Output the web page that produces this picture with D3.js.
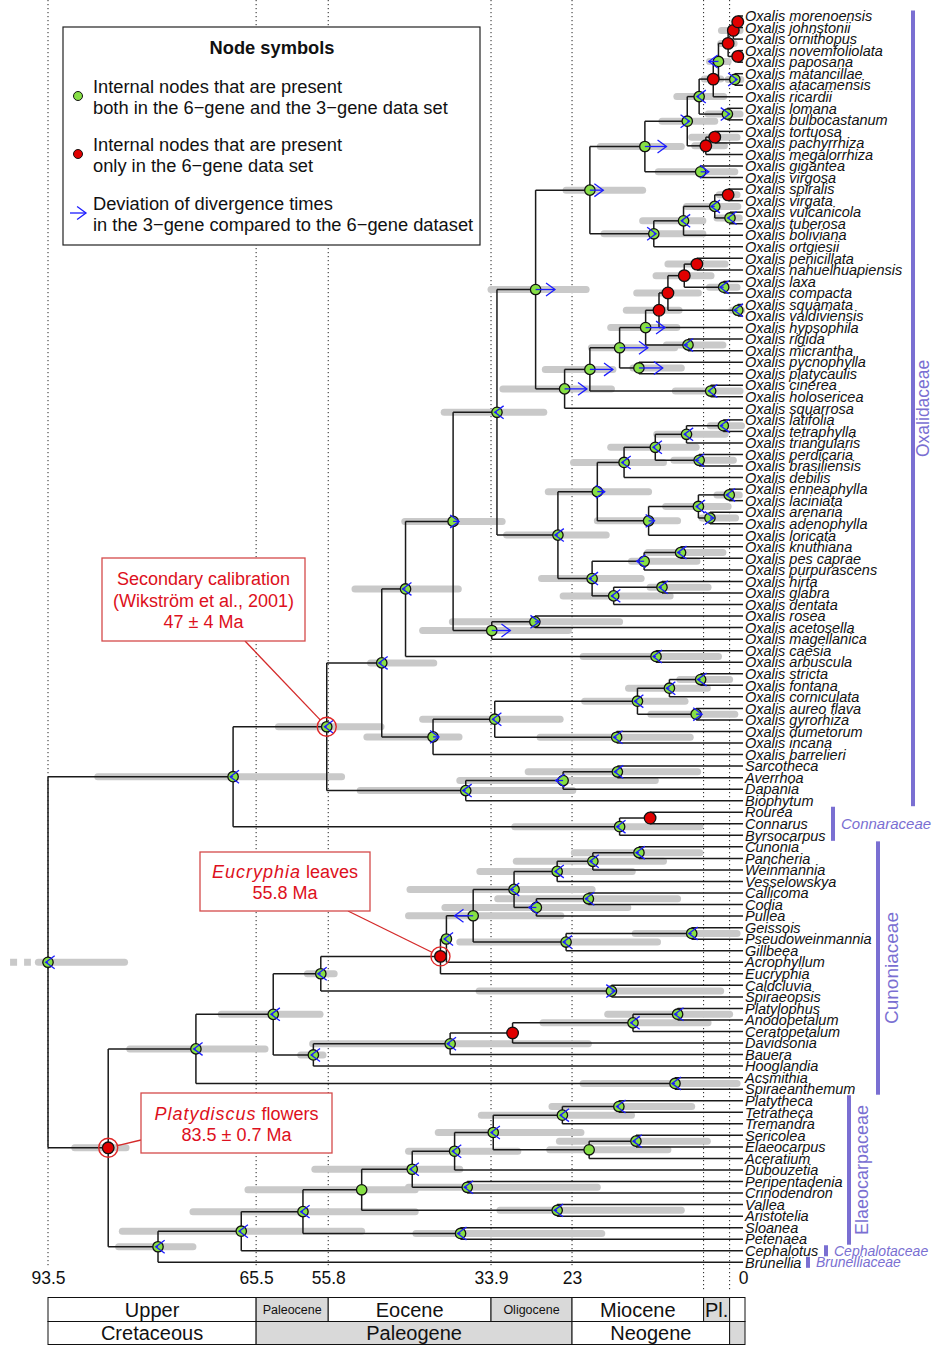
<!DOCTYPE html>
<html>
<head>
<meta charset="utf-8">
<script src="https://cdn.jsdelivr.net/npm/d3@7"></script>
<style>
  body { margin: 0; background: #fff; }
  svg { display: block; }
  text { font-family: "Liberation Sans", Arial, sans-serif; }
</style>
</head>
<body>
<svg id="chart" width="932" height="1345"></svg>
<script>
// ============ DATA ============== \\
const leafNames = ["Oxalis morenoensis","Oxalis johnstonii","Oxalis ornithopus","Oxalis novemfoliolata","Oxalis paposana",
  "Oxalis matancillae","Oxalis atacamensis","Oxalis ricardii","Oxalis lomana","Oxalis bulbocastanum","Oxalis tortuosa",
  "Oxalis pachyrrhiza","Oxalis megalorrhiza","Oxalis gigantea","Oxalis virgosa","Oxalis spiralis","Oxalis virgata",
  "Oxalis vulcanicola","Oxalis tuberosa","Oxalis boliviana","Oxalis ortgiesii","Oxalis penicillata","Oxalis nahuelhuapiensis",
  "Oxalis laxa","Oxalis compacta","Oxalis squamata","Oxalis valdiviensis","Oxalis hypsophila","Oxalis rigida",
  "Oxalis micrantha","Oxalis pycnophylla","Oxalis platycaulis","Oxalis cinerea","Oxalis holosericea","Oxalis squarrosa",
  "Oxalis latifolia","Oxalis tetraphylla","Oxalis triangularis","Oxalis perdicaria","Oxalis brasiliensis","Oxalis debilis",
  "Oxalis enneaphylla","Oxalis laciniata","Oxalis arenaria","Oxalis adenophylla","Oxalis loricata","Oxalis knuthiana",
  "Oxalis pes caprae","Oxalis purpurascens","Oxalis hirta","Oxalis glabra","Oxalis dentata","Oxalis rosea",
  "Oxalis acetosella","Oxalis magellanica","Oxalis caesia","Oxalis arbuscula","Oxalis stricta","Oxalis fontana",
  "Oxalis corniculata","Oxalis aureo flava","Oxalis gyrorhiza","Oxalis dumetorum","Oxalis incana","Oxalis barrelieri",
  "Sarcotheca","Averrhoa","Dapania","Biophytum","Rourea","Connarus","Byrsocarpus","Cunonia","Pancheria","Weinmannia",
  "Vesselowskya","Callicoma","Codia","Pullea","Geissois","Pseudoweinmannia","Gillbeea","Acrophyllum","Eucryphia",
  "Caldcluvia","Spiraeopsis","Platylophus","Anodopetalum","Ceratopetalum","Davidsonia","Bauera","Hooglandia",
  "Acsmithia","Spiraeanthemum","Platytheca","Tetratheca","Tremandra","Sericolea","Elaeocarpus","Aceratium",
  "Dubouzetia","Peripentadenia","Crinodendron","Vallea","Aristotelia","Sloanea","Petenaea","Cephalotus","Brunellia"];

// internal node (numbered 1..108 in pre-order) that each leaf hangs from
const leafParent = [17,17,16,18,18,19,19,13,20,20, 22,22,21,23,23,27,27,28,28,25,
  24,36,36,37,37,38,38,33,39,39, 40,40,41,41,29,47,47,46,48,48,
  44,51,51,52,52,49,55,55,54,57, 57,56,59,59,58,60,60,65,65,64,
  66,66,67,67,61,70,70,69,68,72, 72,71,83,83,82,81,85,85,84,87,
  87,86,78,77,88,88,93,93,92,91, 90,89,94,94,103,103,102,105,105,104,
  100,106,106,107,107,108,108,96,95];

// parent of internal nodes 1..108 (0 = root)
const nodeParent = [0,1,2,3,4,5,6,7,8,9, 10,11,12,13,14,15,16,15,14,12,
  11,21,10,9,24,25,26,26,8,29, 30,31,32,33,34,35,35,34,32,31,
  30,7,42,43,44,45,46,45,43,49, 50,50,42,53,54,53,56,6,58,5,
  4,61,62,63,64,63,62,3,68,69, 2,71,1,73,74,75,76,77,78,79,
  80,81,82,80,84,79,86,76,75,89, 90,91,92,74,73,95,96,97,98,99,
  100,101,102,101,104,99,98,97];

// divergence time (Ma), 6-gene data set
const nodeAge = [93.5,68.6,56.0,48.6,45.4,39.0,33.1,27.9,20.6,13.2,
  7.5,5.9,4.0,3.3,2.0,1.3,0.7,0.7,1.1,2.1, 5.0,3.8,5.7,12.0,8.0,3.8,2.0,1.75,24.0,20.6,
  16.6,13.1,11.3,10.1,7.9,6.2,2.6,0.7,7.4,14.0, 4.35,24.9,19.6,16.0,11.8,7.6,2.65,5.9,12.7,6.0,
  1.85,4.45,20.3,13.3,8.4,17.4,10.9,33.8,28.0,11.7, 41.7,33.4,14.2,9.9,5.7,6.3,17.0,37.3,24.2,16.9,
  16.6,12.5,85.4,73.6,63.2,56.8,40.7,39.9,36.3,30.8, 25.0,20.2,14.0,27.8,20.8,23.8,6.9,17.7,57.8,39.4,
  31.0,14.8,8.8,9.15,78.7,67.5,59.2,51.3,44.5,38.8, 33.6,24.3,16.7,20.7,14.4,37.1,25.0,38.0];

// 95% HPD interval (old end, young end); null = not shown
const hpdOld = [94.8,86.8,62.5,50.1,52.2,45.5,40.2,33.9,23.8,19.2,
  10.9,8.9,5.2,4.5,3.0,2.9,1.2,1.2,2.0,4.7, 6.5,6.9,11.4,18.7,13.5,7.6,3.2,3.5,32.3,26.6,
  20.4,17.8,15.7,14.3,11.7,10.1,4.5,1.5,10.3,14.8, 9.1,31.8,26.2,22.8,17.8,11.6,4.4,9.3,19.6,10.4,
  3.5,5.5,27.1,15.0,12.8,24.2,12.5,43.1,39.1,21.5, 50.6,43.1,21.3,15.4,8.5,12.4,27.3,51.5,38.1,28.9,
  30.7,null,89.9,82.5,70.2,58.6,null,null,45.0,44.8, 35.4,30.5,22.7,40.1,33.0,38.1,14.5,35.5,59.5,57.9,
  null,26.9,18.2,21.5,84.0,83.5,74.0,66.6,57.6,45.0, 41.0,35.2,25.7,26.0,24.7,45.0,32.7,44.0];
const hpdYoung = [83.2,54.0,48.7,41.6,38.3,32.4,26.8,21.1,13.5,8.3,
  3.8,2.6,3.0,2.0,1.2,0.4,0.3,0.3,0.3,0.4, 2.5,0.8,1.1,5.4,5.4,0.7,0.8,0.5,17.7,17.5,
  9.2,8.9,8.6,6.0,4.3,2.4,0.8,0.2,2.7,8.3, 0.4,18.4,12.7,10.7,6.3,2.4,0.2,1.3,8.8,2.0,
  0.5,1.0,13.7,6.2,2.7,9.8,4.7,23.5,16.6,3.3, 38.2,24.6,7.8,4.8,1.8,1.1,7.1,22.9,11.8,6.1,
  5.8,null,83.0,64.3,56.9,55.0,null,null,24.5,20.3, 14.9,10.7,5.8,15.5,8.8,11.5,0.8,3.0,56.5,20.8,
  null,4.7,1.8,0.8,74.0,51.3,44.1,44.1,38.1,30.3, 21.8,15.0,6.9,10.1,4.8,19.6,8.3,19.0];
const rootHpdBeyond = [98.6, 95.8];

// shift of the 3-gene estimate relative to the 6-gene one (Ma, + = younger)
const shift3gene = [-0.3,-0.4,-0.3,-0.4,-0.4,0.8,-0.3,2.6,1.8,2.9,
  0.3,-0.3,0,-1.3,0,0,0,0,0.3,0.3, 0,0,1.1,0.3,-0.3,-0.5,0,-0.3,3.0,3.1,
  3.8,2.6,0,0,0,0,-0.5,-0.5,-0.5,3.2, -0.3,-0.4,1.0,-0.3,-0.3,-0.3,-0.4,-0.5,0.8,-0.3,
  -0.4,0.5,-0.4,-1.0,-0.4,-0.3,-0.4,2.5,0.6,-0.4, 0.8,-0.3,-0.4,-0.4,-0.4,0.8,-0.4,-0.4,-1.0,-0.4,
  -0.4,0,0,-0.3,-0.3,-0.4,0,-0.3,-2.5,-0.5, -0.3,-0.4,-0.4,-1.0,-0.4,-0.4,-0.4,0.5,-0.3,-0.4,
  0,-0.3,-0.4,-0.4,-0.3,-0.3,-0.3,0,-0.3,-0.3, -0.3,-0.3,-0.3,0,-0.4,-0.4,-0.4,-0.4];

// nodes present only in the 6-gene data set
const onlySixGene = [13,15,16,17,18,21,22,27,33,34,35,36,72,73,77,91];

// calibrated nodes
const calibNodes = [3, 77, 73];

const tickAges = [93.5, 65.5, 55.8, 33.9, 23, 0];
const boundaryAges = [93.5, 65.5, 55.8, 33.9, 23, 5.3, 1.8];

const epochNames = ["Upper", "Paleocene", "Eocene", "Oligocene", "Miocene", "Pl.", ""];
const epochFrom = [93.5, 65.5, 55.8, 33.9, 23, 5.3, 1.8];
const epochTo = [65.5, 55.8, 33.9, 23, 5.3, 1.8, 0];
const periodNames = ["Cretaceous", "Paleogene", "Neogene", ""];
const periodFrom = [93.5, 65.5, 23, 1.8];
const periodTo = [65.5, 23, 1.8, 0];

const familyNames = ["Oxalidaceae", "Connaraceae", "Cunoniaceae", "Elaeocarpaceae", "Cephalotaceae", "Brunelliaceae"];
const familyFirstLeaf = [0, 69, 72, 94, 107, 108];
const familyLastLeaf = [68, 71, 93, 106, 107, 108];

// ============ LAYOUT ============== \\
const svg = d3.select('#chart');
const x = d3.scaleLinear().domain([93.5, 0]).range([48, 743]);
const y = d3.scaleLinear().domain([0, leafNames.length - 1]).range([16, 1262.3]);

const GREEN = '#86df45', RED = '#e00000', BLUE = '#1c1cff', GREY = '#c9c9c9', PURPLE = '#7a6fd2';

const nodes = nodeParent.map((p, i) => ({
  id: i + 1, parent: p, age: nodeAge[i],
  hpd: hpdOld[i] == null ? null : [hpdOld[i], hpdYoung[i]],
  shift: shift3gene[i], red: onlySixGene.includes(i + 1), kids: []
}));
const byId = id => nodes[id - 1];

leafNames.forEach((name, i) => byId(leafParent[i]).kids.push({ x: x(0), y: y(i) }));
for (let k = nodes.length; k >= 1; k--) {
  const n = byId(k);
  n.x = x(n.age);
  n.y = d3.mean(n.kids, c => c.y);
  if (n.parent > 0) byId(n.parent).kids.push({ x: n.x, y: n.y });
}

// ============ BACKGROUND ============== \\
svg.append('g').selectAll('line')
  .data(boundaryAges).join('line')
  .attr('x1', d => x(d)).attr('x2', d => x(d))
  .attr('y1', 0).attr('y2', d => tickAges.includes(d) ? 1268 : 1290)
  .attr('stroke', '#222').attr('stroke-width', 1).attr('stroke-dasharray', '1.2,2.8');

// ============ HPD BARS ============== \\
svg.append('g').selectAll('line')
  .data(nodes.filter(n => n.hpd)).join('line')
  .attr('x1', n => x(n.hpd[0])).attr('x2', n => x(n.hpd[1]))
  .attr('y1', n => n.y).attr('y2', n => n.y)
  .attr('stroke', GREY).attr('stroke-width', 7).attr('stroke-linecap', 'round');

svg.append('line')
  .attr('x1', x(rootHpdBeyond[0])).attr('x2', x(rootHpdBeyond[1]))
  .attr('y1', byId(1).y).attr('y2', byId(1).y)
  .attr('stroke', GREY).attr('stroke-width', 7).attr('stroke-dasharray', '7,7');

// ============ BRANCHES ============== \\
const branches = svg.append('g').attr('stroke', '#1a1a1a').attr('stroke-width', 1.5).attr('fill', 'none');
nodes.forEach(n => {
  const ys = n.kids.map(c => c.y);
  branches.append('line').attr('x1', n.x).attr('x2', n.x).attr('y1', d3.min(ys)).attr('y2', d3.max(ys));
  n.kids.forEach(c => branches.append('line').attr('x1', n.x).attr('x2', c.x).attr('y1', c.y).attr('y2', c.y));
});

// ============ LEAF LABELS ============== \\
svg.append('g').selectAll('text')
  .data(leafNames).join('text')
  .attr('x', x(0) + 2).attr('y', (d, i) => y(i)).attr('dy', '0.36em')
  .attr('font-size', 14.5).attr('font-style', 'italic').attr('fill', '#111')
  .text(d => d);

// ============ NODE SYMBOLS ============== \\
svg.append('g').selectAll('circle')
  .data(nodes).join('circle')
  .attr('cx', n => n.x).attr('cy', n => n.y)
  .attr('r', n => n.red ? 5.8 : 5.2)
  .attr('fill', n => n.red ? RED : GREEN)
  .attr('stroke', '#111').attr('stroke-width', 1.3);

function drawArrow(g, x0, x1, yy) {
  const dir = x1 >= x0 ? 1 : -1, len = 11, ang = Math.PI / 5;
  g.append('line').attr('x1', x0).attr('x2', x1).attr('y1', yy).attr('y2', yy);
  g.append('polyline').attr('points', [
    [x1 - dir * len * Math.cos(ang), yy - len * Math.sin(ang)],
    [x1, yy],
    [x1 - dir * len * Math.cos(ang), yy + len * Math.sin(ang)]
  ].map(p => p.join(',')).join(' '));
}

const arrows = svg.append('g').attr('stroke', BLUE).attr('stroke-width', 1.3).attr('fill', 'none');
nodes.filter(n => !n.red && n.shift !== 0).forEach(n => drawArrow(arrows, n.x, x(n.age - n.shift), n.y));

// ============ CALIBRATIONS ============== \\
svg.append('g').selectAll('circle')
  .data(calibNodes).join('circle')
  .attr('cx', id => byId(id).x).attr('cy', id => byId(id).y).attr('r', 9.5)
  .attr('fill', 'none').attr('stroke', '#e02828').attr('stroke-width', 1.4);

const notes = [
  { node: 3, box: [102, 558, 203, 83], anchor: [245, 641], lines: [[['Secondary calibration', false]], [['(Wikström et al., 2001)', false]], [['47 ± 4 Ma', false]]], top: 585 },
  { node: 77, box: [200, 852, 170, 59], anchor: [348, 911], lines: [[['Eucryphia', true], [' leaves', false]], [['55.8 Ma', false]]], top: 877.5 },
  { node: 73, box: [141, 1093, 191, 60], anchor: [141, 1140], lines: [[['Platydiscus', true], [' flowers', false]], [['83.5 ± 0.7 Ma', false]]], top: 1119.5 }
];
notes.forEach(nt => {
  const nd = byId(nt.node);
  const dx = nd.x - nt.anchor[0], dy = nd.y - nt.anchor[1], dist = Math.hypot(dx, dy);
  svg.append('line')
    .attr('x1', nt.anchor[0]).attr('y1', nt.anchor[1])
    .attr('x2', nd.x - dx / dist * 9.5).attr('y2', nd.y - dy / dist * 9.5)
    .attr('stroke', '#d42a2a').attr('stroke-width', 1.3);
  svg.append('rect')
    .attr('x', nt.box[0]).attr('y', nt.box[1]).attr('width', nt.box[2]).attr('height', nt.box[3])
    .attr('fill', '#fff').attr('stroke', '#d44a4a').attr('stroke-width', 1.3);
  nt.lines.forEach((parts, i) => {
    const t = svg.append('text')
      .attr('x', nt.box[0] + nt.box[2] / 2).attr('y', nt.top + i * 21.5)
      .attr('text-anchor', 'middle').attr('font-size', 18).attr('fill', '#dd1020');
    parts.forEach(([s, it]) => t.append('tspan')
      .attr('font-style', it ? 'italic' : 'normal')
      .attr('letter-spacing', it ? 1 : 0)
      .text(s));
  });
});

// ============ LEGEND ============== \\
const legend = svg.append('g');
legend.append('rect').attr('x', 63).attr('y', 27).attr('width', 417).attr('height', 218)
  .attr('fill', '#fff').attr('stroke', '#222').attr('stroke-width', 1.2);
legend.append('text').attr('x', 272).attr('y', 54).attr('text-anchor', 'middle')
  .attr('font-size', 18.3).attr('font-weight', 'bold').attr('fill', '#111').text('Node symbols');

const legendLines = [
  ['Internal nodes that are present', 'both in the 6\u2212gene and the 3\u2212gene data set'],
  ['Internal nodes that are present', 'only in the 6\u2212gene data set'],
  ['Deviation of divergence times', 'in the 3\u2212gene compared to the 6\u2212gene dataset']
];
const legendY = [96, 154, 213];
legendLines.forEach((pair, i) => {
  pair.forEach((s, j) => legend.append('text')
    .attr('x', 93).attr('y', legendY[i] - 3.5 + j * 21)
    .attr('font-size', 18.3).attr('fill', '#111').text(s));
});
legend.append('circle').attr('cx', 78).attr('cy', legendY[0]).attr('r', 4.5).attr('fill', GREEN).attr('stroke', '#111');
legend.append('circle').attr('cx', 78).attr('cy', legendY[1]).attr('r', 4.5).attr('fill', RED).attr('stroke', '#111');
const legArrow = legend.append('g').attr('stroke', BLUE).attr('stroke-width', 1.3).attr('fill', 'none');
drawArrow(legArrow, 70, 86, legendY[2]);

// ============ FAMILY LABELS ============== \\
const famBarX = [913, 833, 878, 849, 826, 808];
const famRotated = [true, false, true, true, false, false];
const famSize = [17.5, 15, 19, 18, 14, 14];
const famGap = [10, 8, 13.5, 13, 8, 8];
familyNames.forEach((f, i) => {
  const y0 = y(familyFirstLeaf[i]) - 5.5, y1 = y(familyLastLeaf[i]) + 5.5;
  svg.append('rect').attr('x', famBarX[i] - 2).attr('y', y0).attr('width', 4).attr('height', y1 - y0).attr('fill', PURPLE);
  const t = svg.append('text').attr('fill', PURPLE).attr('font-size', famSize[i]).text(f);
  if (famRotated[i]) {
    const cx = famBarX[i] + famGap[i], cy = (y0 + y1) / 2;
    t.attr('transform', `translate(${cx},${cy}) rotate(-90)`).attr('text-anchor', 'middle').attr('dy', '0.35em');
  } else {
    t.attr('x', famBarX[i] + famGap[i]).attr('y', (y0 + y1) / 2).attr('dy', '0.35em').attr('font-style', 'italic');
  }
});

// ============ TIME AXIS ============== \\
const axis = svg.append('g').attr('transform', 'translate(0,1268)')
  .call(d3.axisBottom(x).tickValues(tickAges).tickSize(0).tickPadding(4).tickFormat(d => String(d)));
axis.select('.domain').remove();
axis.selectAll('text').attr('font-size', 17.5).attr('fill', '#111').attr('font-family', '"Liberation Sans", Arial, sans-serif');

// ============ GEOLOGICAL TIME SCALE ============== \\
const scale = svg.append('g');
function scaleRow(names, from, to, top, h, shade) {
  names.forEach((nm, i) => {
    const x0 = x(from[i]), x1 = i === names.length - 1 ? x(to[i]) + 2 : x(to[i]);
    scale.append('rect').attr('x', x0).attr('y', top).attr('width', x1 - x0).attr('height', h)
      .attr('fill', shade(i) ? '#d9d9d9' : '#fff').attr('stroke', '#111').attr('stroke-width', 1);
    const small = nm === 'Paleocene' || nm === 'Oligocene';
    scale.append('text').attr('x', (x0 + x1) / 2).attr('y', top + h / 2).attr('dy', '0.36em')
      .attr('text-anchor', 'middle').attr('font-size', small ? 12.5 : 20).attr('fill', '#111').text(nm);
  });
}
scaleRow(epochNames, epochFrom, epochTo, 1297.5, 24, i => i % 2 === 1);
scaleRow(periodNames, periodFrom, periodTo, 1321.5, 23, i => i % 2 === 1);
</script>
</body>
</html>
